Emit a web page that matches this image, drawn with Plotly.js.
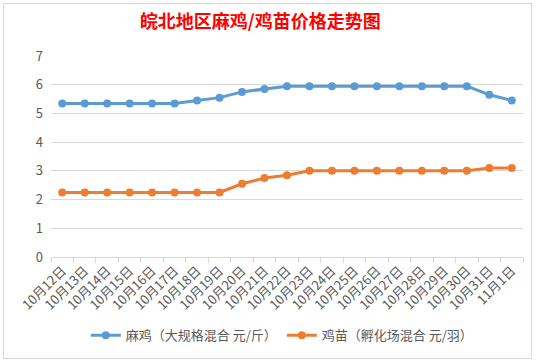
<!DOCTYPE html>
<html><head><meta charset="utf-8">
<script src="https://cdn.plot.ly/plotly-3.0.1.min.js"></script>
<style>
html,body{margin:0;padding:0;background:#fff;}
#frame{position:absolute;left:3px;top:3px;width:527px;height:354px;border:1px solid #d9d9d9;}
#chart{position:absolute;left:0;top:0;width:540px;height:362px;}
</style></head>
<body>
<div id="frame"></div>
<div id="chart"></div>
<script>
const categories = ["10月12日","10月13日","10月14日","10月15日","10月16日","10月17日","10月18日","10月19日","10月20日","10月21日","10月22日","10月23日","10月24日","10月25日","10月26日","10月27日","10月28日","10月29日","10月30日","10月31日","11月1日"];
const machiPrice = [5.35,5.35,5.35,5.35,5.35,5.35,5.45,5.55,5.75,5.85,5.95,5.95,5.95,5.95,5.95,5.95,5.95,5.95,5.95,5.65,5.45];
const chickPrice = [2.25,2.25,2.25,2.25,2.25,2.25,2.25,2.25,2.55,2.75,2.85,3.0,3.0,3.0,3.0,3.0,3.0,3.0,3.0,3.1,3.1];
const seriesNames = ["麻鸡（大规格混合 元/斤）","鸡苗（孵化场混合 元/羽）"];
const yTicks = [0,1,2,3,4,5,6,7];

const font = "'Noto Sans CJK SC', 'Noto Sans', sans-serif";
const traces = [
  {x: categories, y: machiPrice, name: seriesNames[0], type: 'scatter', mode: 'lines+markers',
   line: {color: '#5b9bd5', width: 3}, marker: {color: '#5b9bd5', size: 8}},
  {x: categories, y: chickPrice, name: seriesNames[1], type: 'scatter', mode: 'lines+markers',
   line: {color: '#ed7d31', width: 3}, marker: {color: '#ed7d31', size: 8}}
];
const layout = {
  width: 540, height: 362,
  paper_bgcolor: 'rgba(0,0,0,0)', plot_bgcolor: 'rgba(0,0,0,0)',
  margin: {l: 51, r: 17, t: 56, b: 105},
  font: {family: font, color: '#595959', size: 13},
  title: {text: '<b>皖北地区麻鸡/鸡苗价格走势图</b>', x: 0.482, xanchor: 'center', y: 0.94, yanchor: 'middle',
          xref: 'container', font: {family: font, color: '#ff0000', size: 18}},
  xaxis: {type: 'category', tickangle: -45, showgrid: false, showline: true, linecolor: '#d9d9d9',
          ticks: 'outside', tickson: 'boundaries', ticklen: 5, tickcolor: '#d9d9d9', automargin: false,
          tickfont: {size: 13, color: '#595959'}, range: [-0.5, 20.5]},
  yaxis: {range: [0, 7], tickvals: yTicks, showgrid: true, gridcolor: '#d9d9d9', zeroline: false,
          showline: false, ticks: '', automargin: false, tickfont: {size: 13, color: '#595959'}, ticklabelstandoff: 7},
  legend: {orientation: 'h', x: 0.49, xanchor: 'center', y: -0.39, yanchor: 'middle',
           font: {size: 13, color: '#595959'}},
  showlegend: true
};
Plotly.newPlot('chart', traces, layout, {displayModeBar: false, staticPlot: true});
</script>
</body></html>
